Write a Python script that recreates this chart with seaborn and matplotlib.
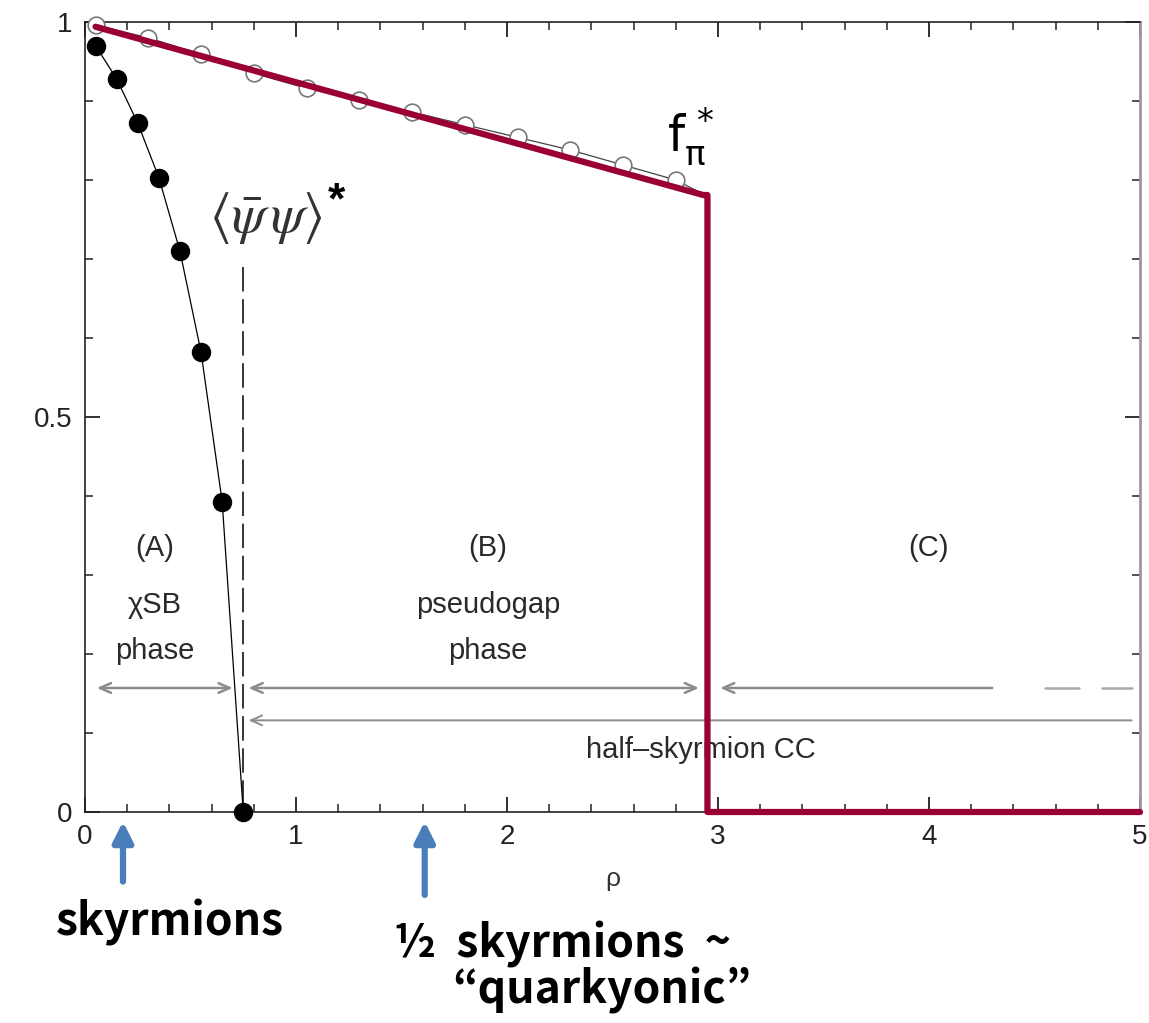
import numpy as np
import pandas as pd
import matplotlib
matplotlib.use("Agg")
import matplotlib.pyplot as plt
import seaborn as sns

# chiral condensate <psibar psi>* (filled circles)
rho_cond = [0.05, 0.15, 0.25, 0.35, 0.45, 0.55, 0.65, 0.75]
cond = [0.970, 0.928, 0.872, 0.803, 0.710, 0.582, 0.393, 0.0]

# pion decay constant f_pi* (open circles)
rho_fpi = [0.05, 0.30, 0.55, 0.80, 1.05, 1.30, 1.55, 1.80, 2.05, 2.30, 2.55, 2.80]
fpi = [0.996, 0.980, 0.959, 0.935, 0.916, 0.901, 0.886, 0.870, 0.854, 0.838, 0.819, 0.800]
fpi_end = (2.93, 0.782)

# schematic f_pi* with a drop at the half-skyrmion transition
rho_red = [0.05, 2.93, 2.95, 2.95, 5.0]
f_red = [0.994, 0.781, 0.781, 0.0, 0.0]

rho_half = 0.75          # onset of half-skyrmion phase
arrow_y1 = 0.157
arrow_y2 = 0.116

sns.set_style("ticks")
plt.rcParams["font.family"] = ["Liberation Sans", "DejaVu Sans"]

W, H = 1149, 1023
fig = plt.figure(figsize=(W / 100, H / 100), dpi=100)
ax = fig.add_axes([85 / W, 1 - 812 / H, (1140 - 85) / W, (812 - 22) / H])

red = "#9a0036"
gray = "#8c8c8c"

# connecting curves
df_c = pd.DataFrame({"rho": rho_cond, "v": cond})
sns.lineplot(data=df_c, x="rho", y="v", ax=ax, color="black", lw=0.9, sort=False,
             estimator=None, zorder=3)
df_f = pd.DataFrame({"rho": rho_fpi + [fpi_end[0]], "v": fpi + [fpi_end[1]]})
sns.lineplot(data=df_f, x="rho", y="v", ax=ax, color="#444444", lw=0.9, sort=False,
             estimator=None, zorder=3)

# data points
ax.plot(rho_fpi, fpi, "o", ms=12, mfc="white", mec="#777777", mew=1.2, zorder=4, clip_on=False)
ax.plot(rho_cond, cond, "o", ms=13, color="black", zorder=5, clip_on=False)

# red schematic line
df_r = pd.DataFrame({"rho": rho_red, "v": f_red})
sns.lineplot(data=df_r, x="rho", y="v", ax=ax, color=red, lw=4.5, sort=False,
             estimator=None, zorder=6, clip_on=False)

# dashed boundary line
ax.plot([rho_half, rho_half], [0.69, 0.01], color="black", lw=1.1,
        dashes=(16, 5), zorder=2)

# phase-extent arrows
akw = dict(arrowstyle="<->,head_length=0.8,head_width=0.35", color=gray, lw=1.8,
           shrinkA=0, shrinkB=0)
ax.annotate("", xy=(0.70, arrow_y1), xytext=(0.056, arrow_y1), arrowprops=akw)
ax.annotate("", xy=(2.91, arrow_y1), xytext=(0.775, arrow_y1), arrowprops=akw)
akw_l = dict(arrowstyle="<-,head_length=0.8,head_width=0.35", color=gray, lw=1.8,
             shrinkA=0, shrinkB=0)
ax.annotate("", xy=(4.30, arrow_y1), xytext=(3.01, arrow_y1), arrowprops=akw_l)
ax.plot([4.55, 4.71], [arrow_y1, arrow_y1], color="#aaaaaa", lw=1.8)
ax.plot([4.82, 4.96], [arrow_y1, arrow_y1], color="#aaaaaa", lw=1.8)
akw_l2 = dict(arrowstyle="<-,head_length=0.8,head_width=0.35", color=gray, lw=1.4,
              shrinkA=0, shrinkB=0)
ax.annotate("", xy=(4.96, arrow_y2), xytext=(0.775, arrow_y2), arrowprops=akw_l2)

# phase labels
tkw = dict(ha="center", va="center", fontsize=21, color="#2a2a2a")
ax.text(0.33, 0.334, "(A)", **tkw)
ax.text(0.33, 0.262, "χSB", **tkw)
ax.text(0.33, 0.204, "phase", **tkw)
ax.text(1.91, 0.334, "(B)", **tkw)
ax.text(1.91, 0.262, "pseudogap", **tkw)
ax.text(1.91, 0.204, "phase", **tkw)
ax.text(4.0, 0.334, "(C)", **tkw)
ax.text(2.92, 0.078, "half\u2013skyrmion CC", **tkw)

# quantity labels
ax.text(0.855, 0.752, r"$\langle\bar{\psi}\,\psi\rangle$", ha="center", va="center",
        fontsize=40, color="#333333", math_fontfamily="stix")
ax.text(1.19, 0.772, "*", ha="center", va="center", fontsize=32, fontweight="bold",
        color="black")
ax.text(2.87, 0.855, r"$\mathrm{f}_{\mathrm{π}}^{\,*}$", ha="center", va="center",
        fontsize=35, color="black", math_fontfamily="dejavusans")

# axes, ticks
ax.set_xlim(0, 5)
ax.set_ylim(0, 1)
ax.set_xticks([0, 1, 2, 3, 4, 5])
ax.set_xticks(np.arange(0, 5.01, 0.2), minor=True)
ax.set_yticks([0, 0.5, 1])
ax.set_yticklabels(["0", "0.5", "1"])
ax.set_yticks(np.arange(0, 1.01, 0.1), minor=True)
ax.tick_params(which="both", direction="in", top=True, right=True, labelsize=20,
               labelcolor="#222222", color="#222222")
ax.tick_params(which="major", length=11, width=1.3, pad=9)
ax.tick_params(which="minor", length=6, width=1.1)
ax.set_xlabel("ρ", fontsize=19, color="#333333", labelpad=12)
ax.set_ylabel("")
for s in ["left", "bottom", "top"]:
    ax.spines[s].set_color("#222222")
    ax.spines[s].set_linewidth(1.2)
ax.spines["right"].set_color("#999999")
ax.spines["right"].set_linewidth(2.0)

# annotations below the axis
blue = "#4a7ebb"
bkw = dict(arrowstyle="-|>,head_length=1.2,head_width=0.6", color=blue, lw=4.5,
           shrinkA=0, shrinkB=0)
ax.annotate("", xy=(0.18, -0.012), xytext=(0.18, -0.088), xycoords="data",
            arrowprops=bkw, annotation_clip=False)
ax.annotate("", xy=(1.61, -0.012), xytext=(1.61, -0.105), xycoords="data",
            arrowprops=bkw, annotation_clip=False)

big = dict(ha="center", va="center", fontsize=32, fontweight="bold", color="black",
           family=["Noto Sans CJK KR", "DejaVu Sans"])
fig.text(170 / W, 1 - 922 / H, "skyrmions", **big)
fig.text(563 / W, 1 - 945 / H, "½  skyrmions  ~", **big)
fig.text(602 / W, 1 - 990 / H, "\u201cquarkyonic\u201d", **big)

fig.savefig("out.png", dpi=100)
